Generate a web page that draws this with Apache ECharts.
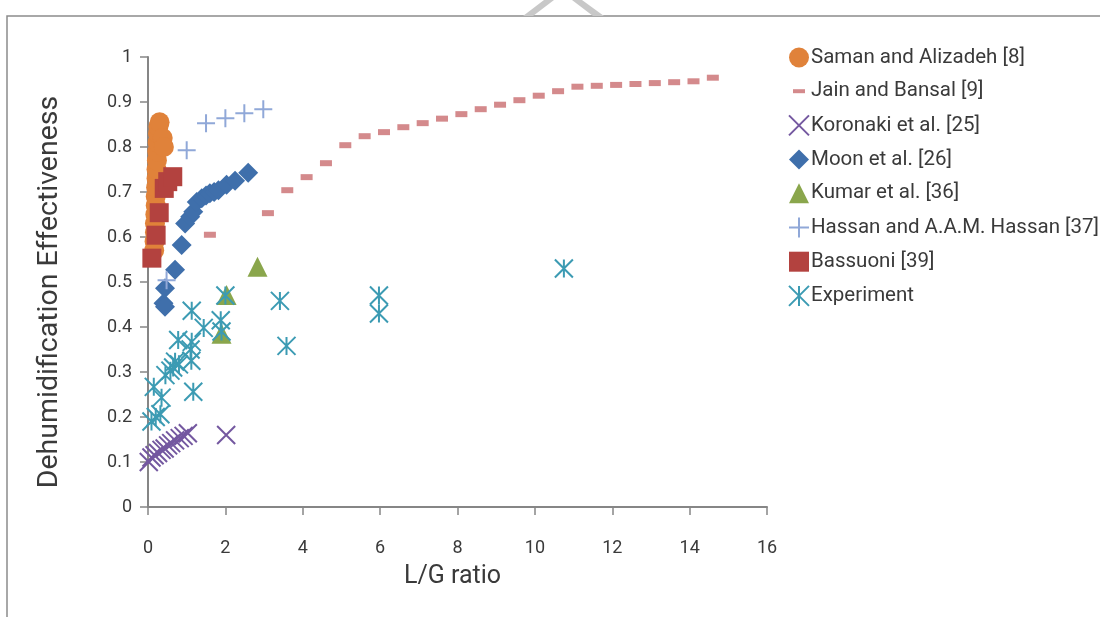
<!DOCTYPE html>
<html>
<head>
<meta charset="utf-8">
<script src="https://cdn.jsdelivr.net/npm/echarts@6/dist/echarts.min.js"></script>
<style>
  html, body { margin: 0; padding: 0; background: #ffffff; }
  #chart { width: 1100px; height: 617px; }
</style>
</head>
<body>
<div id="chart"></div>
<script>
// L/G ratio (x) vs dehumidification effectiveness (y), one array per source
const seriesNames = [
  'Saman and Alizadeh [8]',
  'Jain and Bansal [9]',
  'Koronaki et al. [25]',
  'Moon et al. [26]',
  'Kumar et al. [36]',
  'Hassan and A.A.M. Hassan [37]',
  'Bassuoni [39]',
  'Experiment'
];

const saman = [
  [0.16, 0.57], [0.17, 0.59], [0.18, 0.61], [0.18, 0.63], [0.19, 0.65],
  [0.20, 0.67], [0.20, 0.69], [0.21, 0.71], [0.22, 0.73], [0.22, 0.75],
  [0.23, 0.77], [0.24, 0.79], [0.25, 0.81], [0.26, 0.83], [0.27, 0.845],
  [0.30, 0.855], [0.38, 0.82], [0.41, 0.80]
];

const jain = [
  [1.6, 0.605], [3.1, 0.653], [3.6, 0.704], [4.1, 0.733], [4.6, 0.764],
  [5.1, 0.804], [5.6, 0.824], [6.1, 0.833], [6.6, 0.844], [7.1, 0.853],
  [7.6, 0.863], [8.1, 0.873], [8.6, 0.884], [9.1, 0.894], [9.6, 0.904],
  [10.1, 0.914], [10.6, 0.924], [11.1, 0.934], [11.6, 0.936], [12.1, 0.938],
  [12.6, 0.940], [13.1, 0.942], [13.6, 0.944], [14.1, 0.946], [14.6, 0.954]
];

const koronaki = [
  [0.02, 0.100], [0.09, 0.110], [0.17, 0.115], [0.26, 0.120], [0.35, 0.127],
  [0.43, 0.130], [0.52, 0.137], [0.60, 0.142], [0.70, 0.148], [0.82, 0.153],
  [0.92, 0.158], [1.03, 0.164], [2.02, 0.160]
];

const moon = [
  [0.40, 0.453], [0.44, 0.445], [0.44, 0.486], [0.70, 0.527], [0.87, 0.582],
  [0.96, 0.630], [1.09, 0.645], [1.17, 0.656], [1.26, 0.678], [1.39, 0.686],
  [1.50, 0.692], [1.60, 0.697], [1.71, 0.700], [1.82, 0.704], [2.03, 0.716],
  [2.25, 0.725], [2.59, 0.743]
];

const kumar = [
  [1.90, 0.385], [2.03, 0.471], [2.83, 0.534]
];

const hassan = [
  [0.48, 0.504], [1.00, 0.793], [1.50, 0.853], [2.00, 0.864], [2.49, 0.875], [2.98, 0.884]
];

const bassuoni = [
  [0.10, 0.553], [0.21, 0.604], [0.29, 0.654], [0.42, 0.708], [0.51, 0.723], [0.64, 0.734]
];

const experiment = [
  [0.09, 0.190], [0.20, 0.200], [0.32, 0.206], [0.35, 0.243], [0.15, 0.267],
  [0.45, 0.293], [0.58, 0.303], [0.65, 0.310], [0.70, 0.323], [0.80, 0.317],
  [0.78, 0.371], [1.10, 0.350], [1.12, 0.325], [1.13, 0.367], [1.13, 0.436],
  [1.17, 0.256], [1.44, 0.398], [1.88, 0.415], [1.90, 0.390], [2.00, 0.470],
  [3.41, 0.458], [3.58, 0.358], [5.97, 0.470], [5.97, 0.430], [10.75, 0.530]
];

// axis ranges
const xMin = 0, xMax = 16, xStep = 2;
const yMin = 0, yMax = 1, yStep = 0.1;
const xTitle = 'L/G ratio';
const yTitle = 'Dehumidification Effectiveness';

const FONT = 'Roboto';
const AXIS_GRAY = '#868686';
const TEXT = '#3a3a3a';

// stroke-only marker outlines
const SYM_CROSS = 'path://M0 0L20 20M20 0L0 20';
const SYM_PLUS = 'path://M10 0V20M0 10H20';
const SYM_STAR = 'path://M0 0L20 20M20 0L0 20M10 0V20';
const SYM_DASH_ICON = 'path://M0 0M20 20M4 8H16V12H4Z';

function filled(name, data, symbol, size, color) {
  return {
    name, type: 'scatter', data, symbol, symbolSize: size,
    itemStyle: { color: color, opacity: 1 },
    emphasis: { disabled: true }
  };
}
function stroked(name, data, symbol, size, color, width) {
  return {
    name, type: 'scatter', data, symbol, symbolSize: size,
    itemStyle: { color: 'rgba(0,0,0,0)', borderColor: color, borderWidth: width, opacity: 1 },
    emphasis: { disabled: true }
  };
}

const chart = echarts.init(document.getElementById('chart'), null, { renderer: 'canvas' });

chart.setOption({
  animation: false,
  backgroundColor: '#ffffff',
  textStyle: { fontFamily: FONT },
  grid: { left: 148, right: 333, top: 57, bottom: 110, containLabel: false },
  xAxis: {
    type: 'value', min: xMin, max: xMax, interval: xStep,
    name: xTitle, nameLocation: 'middle', nameGap: 57,
    nameTextStyle: { fontFamily: FONT, fontSize: 25, color: TEXT, padding: [0, 10, 0, 0] },
    axisLine: { show: true, onZero: false, lineStyle: { color: AXIS_GRAY, width: 2 } },
    axisTick: { show: true, length: 8, inside: false, lineStyle: { color: AXIS_GRAY, width: 1.5 } },
    axisLabel: { margin: 32, fontFamily: FONT, fontSize: 18, color: TEXT },
    splitLine: { show: false }
  },
  yAxis: {
    type: 'value', min: yMin, max: yMax, interval: yStep,
    name: yTitle, nameLocation: 'middle', nameGap: 84, nameRotate: 90,
    nameTextStyle: { fontFamily: FONT, fontSize: 28.5, color: TEXT, padding: [0, 20, 0, 0] },
    axisLine: { show: true, onZero: false, lineStyle: { color: AXIS_GRAY, width: 2 } },
    axisTick: { show: true, length: 8, inside: false, lineStyle: { color: AXIS_GRAY, width: 1.5 } },
    axisLabel: {
      margin: 16, fontFamily: FONT, fontSize: 18, color: TEXT,
      formatter: v => String(Math.round(v * 10) / 10)
    },
    splitLine: { show: false }
  },
  legend: {
    orient: 'vertical', left: 783, top: 42,
    itemWidth: 20, itemHeight: 20, itemGap: 12.7,
    textStyle: { fontFamily: FONT, fontSize: 20.5, lineHeight: 20, color: TEXT, padding: [0, 0, 0, -3] },
    selectedMode: false,
    data: [
      { name: seriesNames[0] },
      { name: seriesNames[1], icon: SYM_DASH_ICON },
      { name: seriesNames[2] },
      { name: seriesNames[3] },
      { name: seriesNames[4] },
      { name: seriesNames[5] },
      { name: seriesNames[6] },
      { name: seriesNames[7] }
    ]
  },
  graphic: [
    // outer frame (left and top edges)
    { type: 'polyline', silent: true, z: 0,
      shape: { points: [[7, 617], [7, 16], [1100, 16]] },
      style: { stroke: '#8c8c8c', lineWidth: 1.5, fill: null } },
    // light grey peak above the frame
    { type: 'polygon', silent: true, z: 0,
      shape: { points: [[523, 16], [533, 16], [554, 0], [544, 0]] },
      style: { fill: '#c8c8c8' } },
    { type: 'polygon', silent: true, z: 0,
      shape: { points: [[572, 0], [582, 0], [604, 16], [593, 16]] },
      style: { fill: '#c8c8c8' } }
  ],
  series: [
    filled(seriesNames[0], saman, 'circle', 20, '#E0823A'),
    filled(seriesNames[1], jain, 'rect', [12, 6], '#D48A8C'),
    stroked(seriesNames[2], koronaki, SYM_CROSS, 18, '#7458A0', 2),
    filled(seriesNames[3], moon, 'diamond', 20, '#3F6FAB'),
    filled(seriesNames[4], kumar, 'triangle', 20, '#8AA64C'),
    stroked(seriesNames[5], hassan, SYM_PLUS, 18, '#90A8D8', 2),
    filled(seriesNames[6], bassuoni, 'rect', 19, '#B3423F'),
    stroked(seriesNames[7], experiment, SYM_STAR, 18, '#3C9BB3', 2)
  ]
});
</script>
</body>
</html>
